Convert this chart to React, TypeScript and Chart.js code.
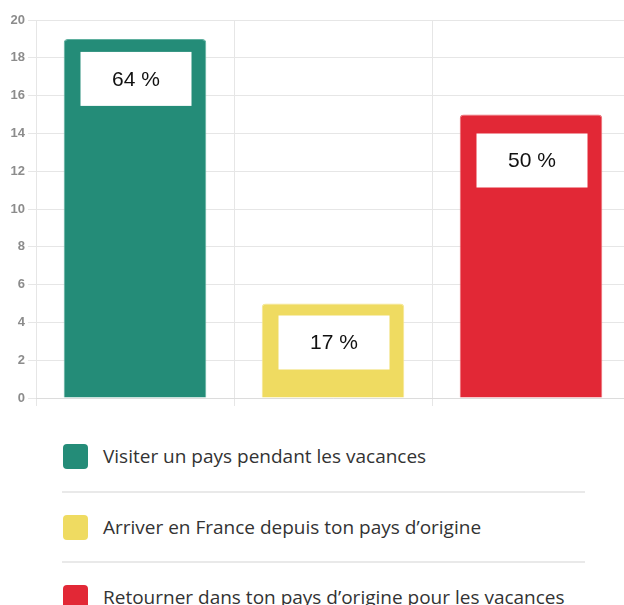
import React, { useEffect, useRef } from "react";
import { Chart, registerables } from "chart.js";

Chart.register(...registerables);

const categories = [
  "Visiter un pays pendant les vacances",
  "Arriver en France depuis ton pays d’origine",
  "Retourner dans ton pays d’origine pour les vacances",
];
const values = [19, 5, 15];
const percentLabels = ["64 %", "17 %", "50 %"];
const colors = ["#248c78", "#efdb61", "#e22836"];
const borderColors = ["#5fb09f", "#f5e690", "#ec6b73"];
const yMin = 0;
const yMax = 20;
const yStep = 2;

const boxPlugin = {
  id: "percentBoxes",
  afterDatasetsDraw(chart: any) {
    const ctx = chart.ctx;
    const meta = chart.getDatasetMeta(0);
    const offsets = [13, 12, 19];
    meta.data.forEach((bar: any, i: number) => {
      const w = 111;
      const h = 54;
      const x = bar.x - w / 2 + 1;
      const y = bar.y + offsets[i];
      ctx.save();
      ctx.fillStyle = "#ffffff";
      ctx.fillRect(x, y, w, h);
      ctx.fillStyle = "#111111";
      ctx.font = "21px 'Liberation Sans', Arial, sans-serif";
      ctx.textAlign = "center";
      ctx.textBaseline = "middle";
      ctx.fillText(percentLabels[i], x + w / 2, y + h / 2 + 1);
      ctx.restore();
    });
  },
};

export default function App() {
  const ref = useRef<HTMLCanvasElement | null>(null);
  useEffect(() => {
    if (!ref.current) return;
    const chart = new Chart(ref.current, {
      type: "bar",
      data: {
        labels: categories,
        datasets: [
          {
            data: values,
            backgroundColor: colors,
            borderColor: borderColors,
            borderWidth: 1,
            borderRadius: { topLeft: 4, topRight: 4, bottomLeft: 0, bottomRight: 0 },
            borderSkipped: "bottom",
          },
        ],
      },
      options: {
        responsive: false,
        animation: false,
        maintainAspectRatio: false,
        layout: { padding: { top: 20, bottom: 4, left: 0, right: 0 } },
        plugins: { legend: { display: false }, tooltip: { enabled: false } },
        scales: {
          x: {
            ticks: { display: false },
            grid: { color: "#e6e6e6", tickLength: 8, offset: true },
            border: { color: "#dcdcdc" },
            afterFit: (s: any) => {
              s.height = 8;
            },
          },
          y: {
            min: yMin,
            max: yMax,
            ticks: {
              stepSize: yStep,
              color: "#8c8c8c",
              padding: 3,
              font: { family: "'Liberation Sans', Arial, sans-serif", size: 13, weight: "bold" },
            },
            grid: { color: "#e6e6e6", tickLength: 8 },
            border: { display: false },
            afterFit: (s: any) => {
              s.width = 36;
            },
          },
        },
      },
      plugins: [boxPlugin],
    });
    return () => chart.destroy();
  }, []);

  return (
    <div
      style={{
        position: "fixed",
        left: 0,
        top: 0,
        width: 624,
        height: 605,
        overflow: "hidden",
        background: "#fff",
      }}
    >
      <canvas
        ref={ref}
        width={630}
        height={410}
        style={{ position: "absolute", left: 0, top: 0, width: 630, height: 410 }}
      />
      <div
        style={{
          position: "absolute",
          left: 62,
          top: 421,
          width: 523,
          fontFamily: "'Open Sans', sans-serif",
          fontSize: 19,
          color: "#333",
        }}
      >
        {categories.map((c, i) => (
          <div
            key={c}
            style={{
              height: 70,
              boxSizing: "border-box",
              borderTop: i > 0 ? "2px solid #e9e9e9" : "none",
              display: "flex",
              alignItems: "center",
            }}
          >
            <span
              style={{
                display: "inline-block",
                width: 25,
                height: 25,
                borderRadius: 4,
                background: colors[i],
                marginLeft: 1,
                marginRight: 15,
                flex: "none",
              }}
            />
            <span style={{ whiteSpace: "nowrap" }}>{c}</span>
          </div>
        ))}
      </div>
    </div>
  );
}
